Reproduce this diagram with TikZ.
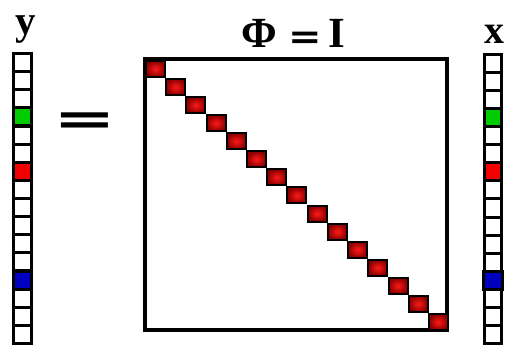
\documentclass[tikz,border=0pt]{standalone}
\usepackage{fontspec}
\setmainfont{Liberation Serif}
\newfontfamily\eqfont{DejaVu Sans}
\tikzset{
  cell/.style={draw, line width=3pt, minimum width=18pt, minimum height=18.1pt, inner sep=0pt, outer sep=0pt, fill=white},
  diag/.style={draw, line width=2pt, minimum width=19pt, minimum height=16pt, inner sep=0pt, outer sep=0pt, inner color=red!90!white, outer color=red!55!black},
  lbl/.style={inner sep=0pt, anchor=base, font=\bfseries\fontsize{#1}{#1}\selectfont},
  eqlbl/.style={inner sep=0pt, anchor=base, font=\eqfont\bfseries\fontsize{#1}{#1}\selectfont},
}
\begin{document}
\begin{tikzpicture}[x=1pt,y=-1pt]
\useasboundingbox[fill=white] (0,0) rectangle (507,350);
% labels
\node[lbl=41] (ylab) at (26,35) {y};
\node[lbl=40] (xlab) at (494.5,44) {x};
\node[lbl=43] (phi) at (259,48) {Φ};
\node[eqlbl=40] (teq) at (305,49) {\scalebox{1}[0.85]{=}};
\node[lbl=43] (tI) at (336.5,48) {I};
\node[eqlbl=75] (eq) at (85,135) {\scalebox{1}[0.6]{=}};
% left vector y
\foreach \i in {1,...,16} {
  \node[cell] (y\i) at (22.5,{53.5+18.125*(\i-0.5)}) {};
}
\node[cell, fill=green!80!black] at (y4) {};
\node[cell, fill=red!95!black] at (y7) {};
\node[cell, fill=blue!75!black] at (y13) {};
% right vector x
\foreach \i in {1,...,16} {
  \node[cell, minimum width=17pt] (x\i) at (493,{54.5+18.06*(\i-0.5)}) {};
}
\node[cell, minimum width=17pt, fill=green!80!black] at (x4) {};
\node[cell, minimum width=17pt, fill=red!95!black] at (x7) {};
\node[cell, minimum width=19pt, fill=blue!75!black] at (x13) {};
% matrix
\draw[line width=4pt] (145,59) rectangle (447,330);
\foreach \i in {0,...,14} {
  \node[diag] (d\i) at ({155.5+20.21*\i},{69+18.07*\i}) {};
}
\end{tikzpicture}
\end{document}
